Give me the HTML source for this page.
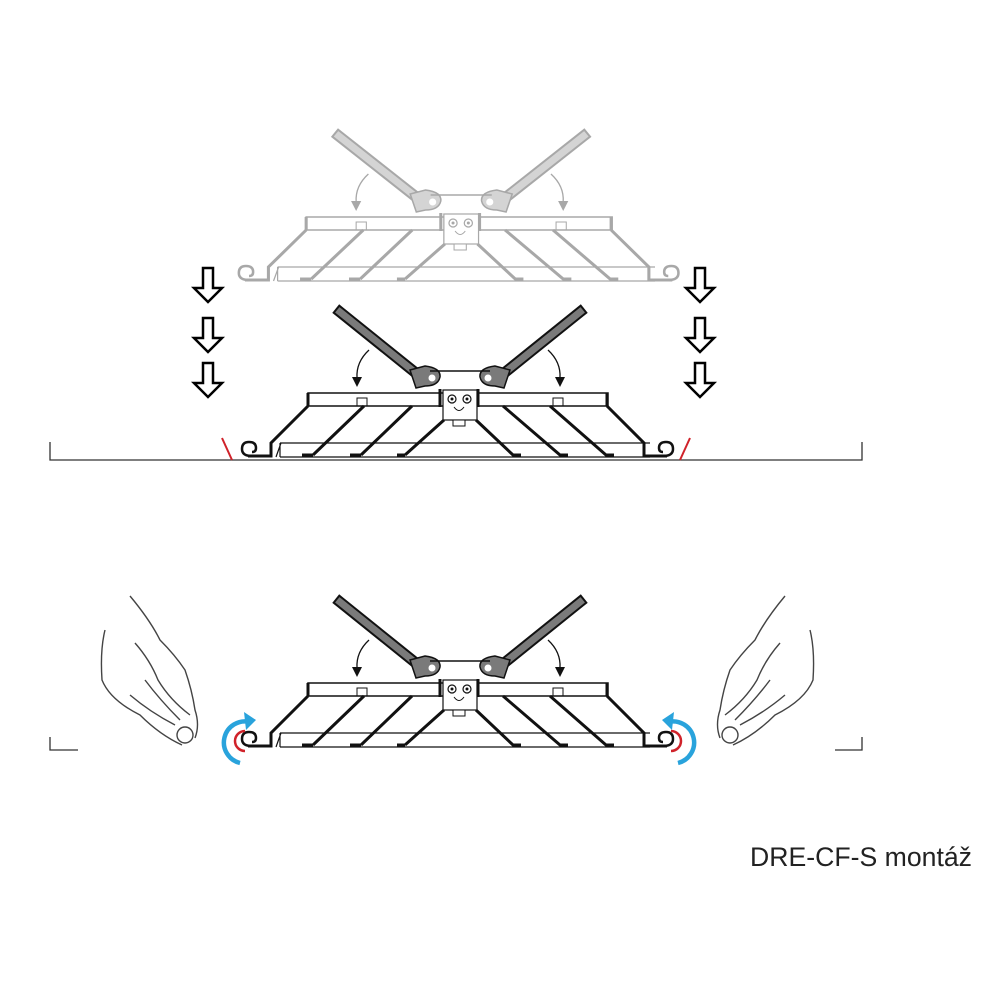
<!DOCTYPE html>
<html><head><meta charset="utf-8"><style>html,body{margin:0;padding:0;background:#fff}svg{display:block}</style></head>
<body>
<svg width="1000" height="1000" viewBox="0 0 1000 1000" xmlns="http://www.w3.org/2000/svg">
<defs>
<g id="asm">
  <line x1="340" y1="312" x2="422" y2="378" stroke="currentColor" stroke-width="11" stroke-linecap="square"/>
  <line x1="340" y1="312" x2="422" y2="378" stroke="var(--arm)" stroke-width="7" stroke-linecap="square"/>
  <line x1="580" y1="312" x2="498" y2="378" stroke="currentColor" stroke-width="11" stroke-linecap="square"/>
  <line x1="580" y1="312" x2="498" y2="378" stroke="var(--arm)" stroke-width="7" stroke-linecap="square"/>
  <path d="M410,370 L425,366 Q441,368 440,377 Q438,386 425,386 L416,388 Z" fill="var(--arm)" stroke="currentColor" stroke-width="1.5"/>
  <path d="M510,370 L495,366 Q479,368 480,377 Q482,386 495,386 L504,388 Z" fill="var(--arm)" stroke="currentColor" stroke-width="1.5"/>
  <circle cx="432" cy="378" r="3.5" fill="#fff"/><circle cx="488" cy="378" r="3.5" fill="#fff"/>
  <line x1="430" y1="371" x2="490" y2="371" stroke="currentColor" stroke-width="1.5"/>
  <rect x="308" y="393" width="300" height="13" fill="none" stroke="currentColor" stroke-width="1.5"/>
  <line x1="308" y1="393" x2="308" y2="406" stroke="currentColor" stroke-width="3"/>
  <line x1="607" y1="393" x2="607" y2="406" stroke="currentColor" stroke-width="3"/>
  <rect x="357" y="398" width="10" height="8" fill="none" stroke="currentColor" stroke-width="1"/>
  <rect x="553" y="398" width="10" height="8" fill="none" stroke="currentColor" stroke-width="1"/>
  <rect x="443" y="390" width="34" height="30" fill="#fff" stroke="currentColor" stroke-width="1.2"/>
  <rect x="453" y="420" width="12" height="6" fill="#fff" stroke="currentColor" stroke-width="1"/>
  <line x1="440" y1="389" x2="440" y2="407" stroke="currentColor" stroke-width="3"/>
  <line x1="478" y1="389" x2="478" y2="407" stroke="currentColor" stroke-width="3"/>
  <circle cx="452" cy="399" r="4" fill="none" stroke="currentColor" stroke-width="1.2"/><circle cx="452" cy="399" r="1.5" fill="currentColor"/>
  <circle cx="467" cy="399" r="4" fill="none" stroke="currentColor" stroke-width="1.2"/><circle cx="467" cy="399" r="1.5" fill="currentColor"/>
  <path d="M454,407 Q459,414 464,407" fill="none" stroke="currentColor" stroke-width="1"/>
  <path d="M280,443 L650,443 M280,457 L650,457 M280,443 L280,457 M276,457 L281,443" fill="none" stroke="currentColor" stroke-width="1.2"/>
  <g stroke="currentColor" stroke-width="3" fill="none">
    <path d="M308,406 L271,443 L271,456 L248,456"/>
    <path d="M364,406 L313,455 M302,455 L313,455"/>
    <path d="M412,406 L361,455 M350,455 L361,455"/>
    <path d="M444,420 L405,455 M397,455 L405,455"/>
    <path d="M476,420 L513,455 L521,455"/>
    <path d="M503,406 L560,455 L568,455"/>
    <path d="M550,406 L606,455 L614,455"/>
    <path d="M607,406 L644,443 L644,456 L667,456"/>
  </g>
  <path d="M252,456 Q242,456 242,449 Q242,442 249,442 Q256,442 256,448 Q256,452 252,452" fill="none" stroke="currentColor" stroke-width="2.5"/>
  <path d="M663,456 Q673,456 673,449 Q673,442 666,442 Q659,442 659,448 Q659,452 663,452" fill="none" stroke="currentColor" stroke-width="2.5"/>
  <path d="M369,350 Q356,362 357,378" fill="none" stroke="currentColor" stroke-width="1.3"/>
  <path d="M352,377 L362,377 L357,387 Z" fill="currentColor"/>
  <path d="M548,350 Q561,362 560,378" fill="none" stroke="currentColor" stroke-width="1.3"/>
  <path d="M555,377 L565,377 L560,387 Z" fill="currentColor"/>
</g>
<g id="darr"><path d="M203,268 L213,268 L213,288 L222,288 L208,302 L194,288 L203,288 Z" fill="#fff" stroke="#000" stroke-width="2.5"/></g>
<g id="hand" fill="none" stroke="#444" stroke-width="1.4">
  <path d="M130,596 Q150,620 160,640 Q175,655 185,670 Q192,690 195,710 Q200,725 195,738"/>
  <path d="M105,630 Q100,650 102,680 Q110,700 140,715 Q160,735 182,745"/>
  <path d="M135,643 Q150,660 158,680 Q170,700 190,715"/>
  <path d="M145,680 Q160,700 180,720"/>
  <path d="M130,695 Q150,712 175,725"/>
  <circle cx="185" cy="735" r="8"/>
</g>
</defs>

<use href="#asm" transform="translate(-8,-176) scale(1.02,1)" style="color:#a8a8a8;--arm:#d4d4d4"/>
<use href="#asm" style="color:#111;--arm:#7a7a7a"/>
<path d="M50,442 L50,460 L862,460 L862,442" fill="none" stroke="#333" stroke-width="1.3"/>
<line x1="222" y1="438" x2="232" y2="460" stroke="#d0222a" stroke-width="2"/>
<line x1="690" y1="438" x2="680" y2="460" stroke="#d0222a" stroke-width="2"/>
<use href="#asm" transform="translate(0,290)" style="color:#111;--arm:#7a7a7a"/>
<path d="M50,737 L50,750 L78,750 M835,750 L862,750 L862,737" fill="none" stroke="#333" stroke-width="1.3"/>
<path d="M245,731 A10,10 0 0 0 245,751" fill="none" stroke="#d0222a" stroke-width="2.5"/>
<path d="M671,731 A10,10 0 0 1 671,751" fill="none" stroke="#d0222a" stroke-width="2.5"/>
<path d="M240,763 A19,19 0 1 1 250,722" fill="none" stroke="#29a3dc" stroke-width="4.5"/>
<path d="M244,712 L256,720 L246,730 Z" fill="#29a3dc"/>
<path d="M678,763 A19,19 0 1 0 668,722" fill="none" stroke="#29a3dc" stroke-width="4.5"/>
<path d="M674,712 L662,720 L672,730 Z" fill="#29a3dc"/>
<use href="#hand"/>
<use href="#hand" transform="translate(915,0) scale(-1,1)"/>
<use href="#darr"/><use href="#darr" transform="translate(0,50)"/><use href="#darr" transform="translate(0,95)"/>
<use href="#darr" transform="translate(492,0)"/><use href="#darr" transform="translate(492,50)"/><use href="#darr" transform="translate(492,95)"/>
<text x="750" y="866" font-family="Liberation Sans, sans-serif" font-size="26.5" fill="#222" textLength="222" lengthAdjust="spacingAndGlyphs">DRE-CF-S montáž</text>
</svg>
</body></html>
